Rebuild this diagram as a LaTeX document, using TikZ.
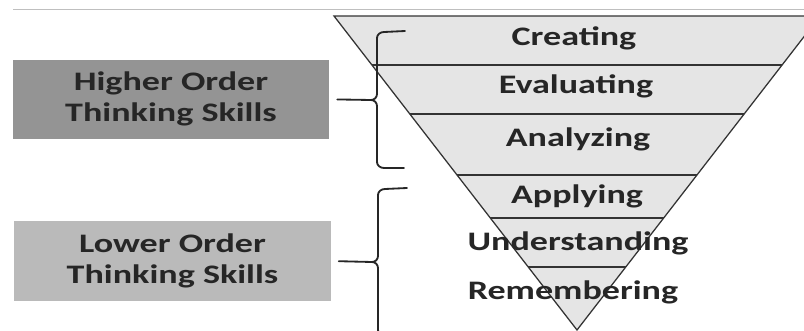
\documentclass[tikz,border=0pt]{standalone}
\usepackage{fontspec}
\newfontfamily\skillfont[FakeStretch=1.35]{Carlito}
\newfontfamily\captionfont{Liberation Serif}
\usetikzlibrary{positioning}

\tikzset{
  skillbox/.style={minimum width=7.9cm, minimum height=1.98cm, inner sep=0pt, align=center,
    text=black!85, font=\skillfont\bfseries\fontsize{19}{22}\selectfont},
  levellabel/.style={anchor=base, inner sep=0pt, text=black!85,
    font=\skillfont\bfseries\fontsize{19}{22}\selectfont},
  bracket/.style={line width=1.3pt, black!85, line cap=round, line join=round}
}

\begin{document}
\begin{tikzpicture}[x=0.025cm, y=-0.025cm]
\useasboundingbox (0,0) rectangle (804,330);
\clip (0,0) rectangle (804,330);

% draw caption (cut at the top)
\node[levellabel, text=black, font=\captionfont\bfseries\fontsize{17}{20}\selectfont] (caption) at (396,-7) {Figure 1: Bloom's Revised Taxonomy};
\draw[black!25, line width=0.5pt] (13,9.5) -- (804,9.5);

% draw pyramid
\draw[fill=black!10, draw=black!80, line width=0.9pt] (334,16) -- (820,16) -- (577,330) -- cycle;
\foreach \y in {65,114,175,218,267}
  \draw[line width=1.2pt, black!80] ({577-0.774*(330-\y)},\y) -- ({577+0.774*(330-\y)},\y);

% draw levels
\node[levellabel] (creating) at (574,45) {Creating};
\node[levellabel] (evaluating) at (576,93) {Evaluating};
\node[levellabel] (analyzing) at (578,146) {Analyzing};
\node[levellabel] (applying) at (577,203) {Applying};
\node[levellabel] (understanding) at (578,250) {Understanding};
\node[levellabel] (remembering) at (573,299) {Remembering};

% draw thinking skills boxes
\node[skillbox, fill=black!42] (hots) at (171,99.3) {Higher Order\\Thinking Skills};
\node[skillbox, fill=black!27] (lots) at (172.5,261) {Lower Order\\Thinking Skills};

% draw upper bracket
\coordinate (hotip) at (371,100);
\draw[bracket] (405,31) -- (384,32) to[out=180,in=90] (377,38) -- (377,94)
  to[out=-90,in=0] (hotip) to[out=0,in=90] (377,106) -- (377,162)
  to[out=-90,in=180] (384,168) -- (404,168);
\draw[bracket, shorten <=0.2cm] (hots.east) -- (hotip);

% draw lower bracket
\coordinate (lotip) at (372,262);
\draw[bracket] (407,188) -- (385,189) to[out=180,in=90] (378,195) -- (378,256)
  to[out=-90,in=0] (lotip) to[out=0,in=90] (378,268) -- (378,330)
  to[out=-90,in=180] (385,336) -- (407,336);
\draw[bracket, shorten <=0.2cm] (lots.east) -- (lotip);

\end{tikzpicture}
\end{document}
